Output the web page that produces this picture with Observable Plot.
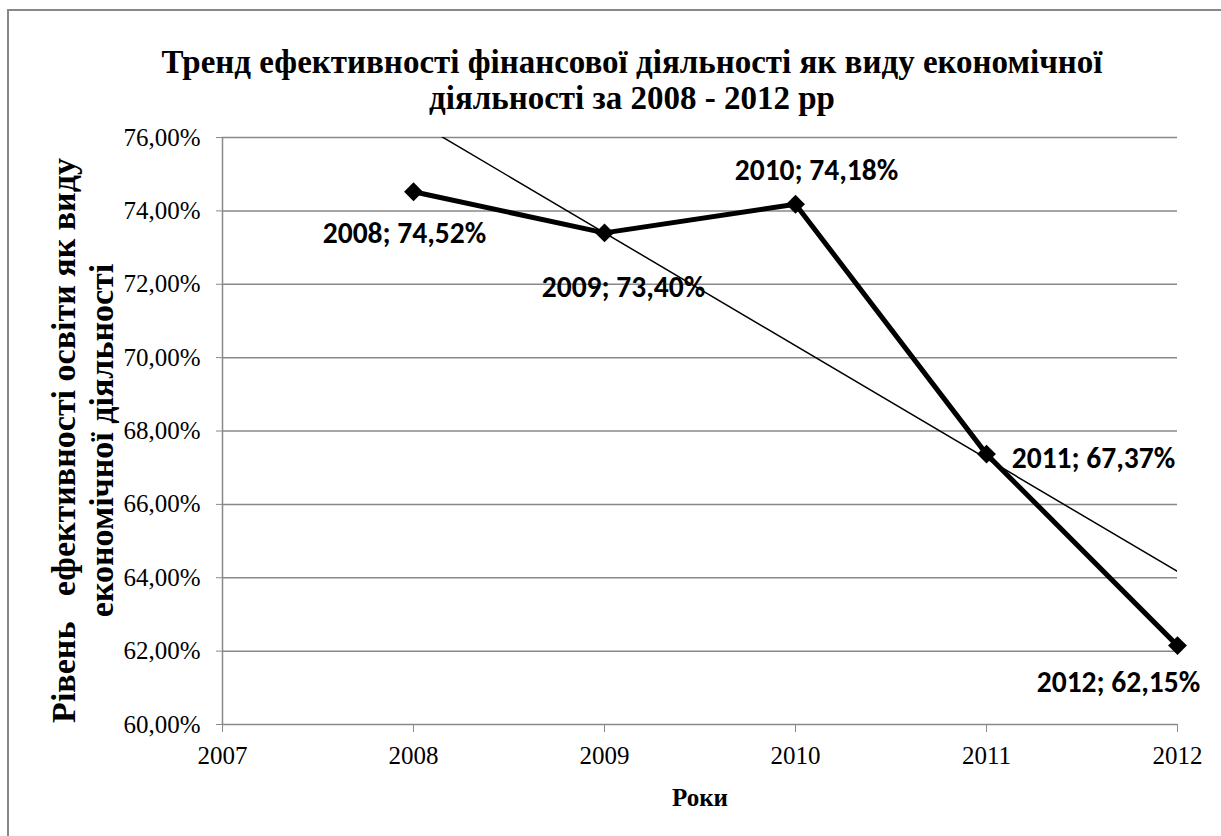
<!DOCTYPE html>
<html><head><meta charset="utf-8">
<script src="https://cdn.jsdelivr.net/npm/d3@7"></script>
<script src="https://cdn.jsdelivr.net/npm/@observablehq/plot@0.6"></script>
<style>
body{margin:0;background:#fff;}
#wrap{position:relative;width:1221px;height:836px;overflow:hidden;font-family:"Liberation Serif","Times New Roman",serif;background:#fff;}
#frame{position:absolute;left:7px;top:9px;width:1300px;height:900px;border-top:2px solid #888;border-left:2px solid #888;}
#title{position:absolute;left:0;top:44px;width:1264px;text-align:center;font-family:"Liberation Serif","Times New Roman",serif;font-weight:bold;font-size:33px;line-height:36px;color:#000;white-space:nowrap;}
#chart{position:absolute;left:0;top:115px;}
</style></head>
<body>
<div id="wrap"><div id="frame"></div><div id="title"></div><div id="chart"></div></div>
<script>
// ---- data ----
const years = [2008, 2009, 2010, 2011, 2012];
const values = [74.52, 73.40, 74.18, 67.37, 62.15];
const xTicks = [2007, 2008, 2009, 2010, 2011, 2012];
const yTicks = [60, 62, 64, 66, 68, 70, 72, 74, 76];
const titleLines = ["Тренд ефективності фінансової діяльності як виду економічної", "діяльності за 2008 - 2012 рр"];
const yLabelLines = ["Рівень\u00a0\u00a0 ефективності освіти як виду", "економічної діяльності"];
const xLabel = "Роки";

// ---- build ----
const fmtPct = v => v.toFixed(2).replace(".", ",") + "%";
const data = years.map((yr, i) => ({year: yr, value: values[i], label: yr + "; " + fmtPct(values[i])}));

document.getElementById("title").innerHTML = titleLines.join("<br>");

// label placement relative to each point (layout, not data)
const place = [[-9, 42], [19, 55], [21, -34], [107, 4], [-59, 37]];
const serif = "'Liberation Serif','Times New Roman',serif";

const labelMarks = data.map((d, i) => Plot.text([d], {
  x: "year", y: "value", text: "label",
  dx: place[i][0], dy: place[i][1],
  fontFamily: "Carlito, Lato, sans-serif", fontWeight: "bold", fontSize: 29.5, fill: "black"
}));

const chart = Plot.plot({
  width: 1221,
  height: 721,
  marginLeft: 222,
  marginRight: 44,
  marginTop: 22,
  marginBottom: 112,
  style: {fontFamily: serif, fontSize: "25px", color: "black", background: "transparent", overflow: "visible"},
  x: {domain: [2007, 2012]},
  y: {domain: [60, 76]},
  marks: [
    Plot.gridY(yTicks, {stroke: "#888", strokeOpacity: 1, strokeWidth: 1.5}),
    Plot.ruleX([2007], {stroke: "#888", strokeWidth: 1.5}),
    Plot.axisY({ticks: yTicks, tickSize: 6, tickPadding: 16, tickFormat: fmtPct, stroke: "#888", fill: "black", fontSize: 25, fontFamily: serif, label: null}),
    Plot.axisX({ticks: xTicks, tickSize: 8, tickPadding: 14, tickFormat: d => String(d), stroke: "#888", fill: "black", fontSize: 25, fontFamily: serif, label: null}),
    Plot.linearRegressionY(data, {x: "year", y: "value", stroke: "black", strokeWidth: 1.5, ci: 0, clip: true}),
    Plot.line(data, {x: "year", y: "value", stroke: "black", strokeWidth: 5, strokeLinejoin: "miter"}),
    Plot.dot(data, {x: "year", y: "value", symbol: "diamond2", r: 8.5, fill: "black", stroke: "none"}),
    ...labelMarks,
    Plot.text([yLabelLines.join("\n")], {text: d => d, frameAnchor: "top-left", dx: -141, dy: 303, rotate: -90,
      textAnchor: "middle", lineAnchor: "middle", lineHeight: 1.12, fontSize: 34, fontFamily: serif, fontWeight: "bold", fill: "black"}),
    Plot.text([xLabel], {text: d => d, frameAnchor: "bottom", dy: 73, lineAnchor: "middle", fontSize: 25, fontFamily: serif, fontWeight: "bold", fill: "black"})
  ]
});
document.getElementById("chart").appendChild(chart);
</script>
</body></html>
